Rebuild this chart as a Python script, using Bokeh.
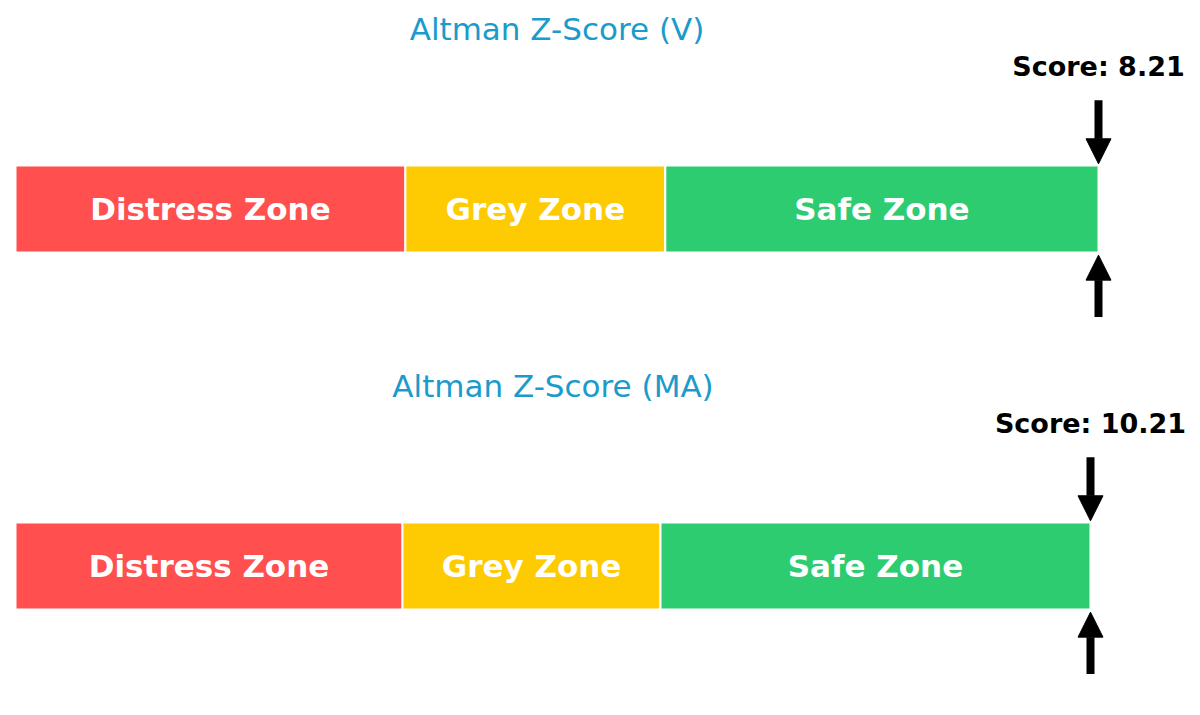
from bokeh.plotting import figure
from bokeh.layouts import column
from bokeh.models import Range1d, Arrow, NormalHead
from bokeh.core.properties import value
from bokeh.embed import file_html
from bokeh.resources import INLINE

# zone thresholds of the gauge (Altman Z-score)
zone_names = ["Distress Zone", "Grey Zone", "Safe Zone"]
zone_left = [0.0, 1.8, 3.0]
zone_right = [1.8, 3.0, 5.0]
zone_colors = ["#ff4f4f", "#fecb02", "#2ecc71"]

tickers = ["V", "MA"]
scores = [8.21, 10.21]

gauge_max = zone_right[-1]


def panel(ticker, score, height, frame_left, frame_right, y_bottom):
    # pixels per unit along x, the frame spans the whole figure
    width = 1200
    kx = (frame_right - frame_left) / gauge_max
    x0 = -frame_left / kx
    x1 = x0 + width / kx
    ky = 87.0
    y_top = y_bottom + height / ky

    p = figure(width=width, height=height, output_backend="svg", toolbar_location=None,
               x_range=Range1d(x0, x1), y_range=Range1d(y_bottom, y_top),
               min_border=0, outline_line_color=None)
    p.axis.visible = False
    p.grid.visible = False
    p.background_fill_color = "white"
    p.border_fill_color = "white"

    p.quad(left=zone_left, right=zone_right, bottom=0, top=1, fill_color=zone_colors,
           line_color="white", line_width=2)

    mids = [(a + b) / 2 for a, b in zip(zone_left, zone_right)]
    p.text(x=mids, y=[0.5] * 3, text=zone_names, text_color="white",
           text_font=value("DejaVu Sans"), text_font_style="bold", text_font_size="31px",
           text_align="center", text_baseline="middle")

    p.text(x=[gauge_max / 2], y=[2.575], text=[f"Altman Z-Score ({ticker})"],
           text_color="#1a9bcc", text_font=value("DejaVu Sans"), text_font_size="31px",
           text_align="center", text_baseline="middle")

    pos = min(score, gauge_max)
    p.text(x=[pos], y=[2.14], text=[f"Score: {score:.2f}"], text_color="black",
           text_font=value("DejaVu Sans"), text_font_style="bold", text_font_size="27px",
           text_align="center", text_baseline="middle")

    p.add_layout(Arrow(end=NormalHead(size=25, fill_color="black", line_color="black"),
                       x_start=pos, y_start=1.75, x_end=pos, y_end=1.02,
                       line_width=8, line_color="black"))
    p.add_layout(Arrow(end=NormalHead(size=25, fill_color="black", line_color="black"),
                       x_start=pos, y_start=-0.74, x_end=pos, y_end=-0.03,
                       line_width=8, line_color="black"))
    return p


p1 = panel(tickers[0], scores[0], 366, 15, 1098, -1.31)
p2 = panel(tickers[1], scores[1], 349, 15, 1090, -1.218)

p = column(p1, p2, spacing=0)
open("out.html", "w").write(file_html(p, INLINE))
